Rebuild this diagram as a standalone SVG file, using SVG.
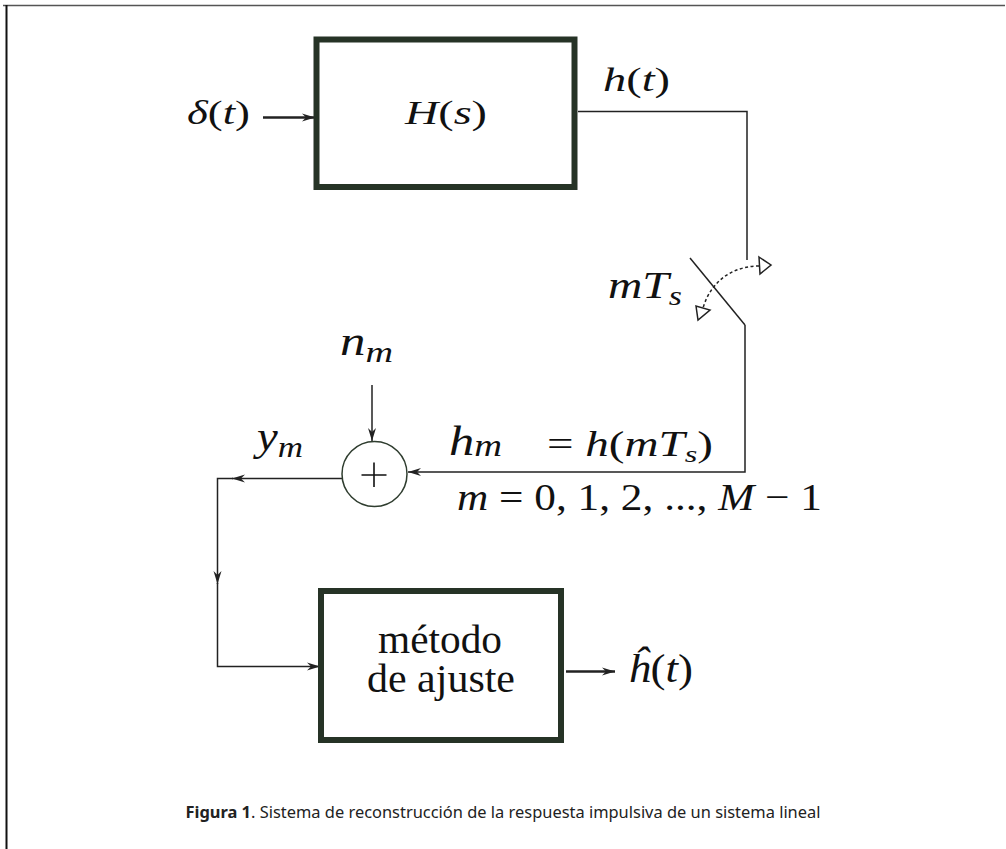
<svg xmlns="http://www.w3.org/2000/svg" width="1006" height="849" viewBox="0 0 1006 849">
<style>
.m{font-family:"Liberation Serif","DejaVu Serif",serif;fill:#111}
.i{font-style:italic}
.box{fill:#fff;stroke:#263326;stroke-width:6}
.ln{fill:none;stroke:#222;stroke-width:1.5}
.thk{stroke-width:2.6}
.cap{font-family:"Noto Sans","Open Sans",sans-serif;font-size:16px;fill:#222}
</style>
<defs>
<marker id="arr" markerWidth="14" markerHeight="10" refX="13" refY="5" orient="auto" markerUnits="userSpaceOnUse">
<path d="M0,1 L13,5 L0,9 L4,5 z" fill="#222"/>
</marker>
</defs>
<rect width="1006" height="849" fill="#fff"/>
<path d="M3,5.5 H1005" stroke="#555" stroke-width="1.6" fill="none"/>
<path d="M6.5,5 V849" stroke="#111" stroke-width="2" fill="none"/>

<g id="connectors">
<path class="ln thk" d="M263,117.5 H315" marker-end="url(#arr)"/>
<path class="ln" d="M578,111.5 H747 V260"/>
<path class="ln" d="M690,258 L745,325"/>
<path class="ln" d="M745,325 V472 H408" marker-end="url(#arr)"/>
<path class="ln" d="M372,385 V441" marker-end="url(#arr)"/>
<path class="ln" d="M342,478.5 H232" marker-end="url(#arr)"/>
<path class="ln" d="M233,478.5 H217.5 V584" marker-end="url(#arr)"/>
<path class="ln" d="M217.5,583 V666.5 H320" marker-end="url(#arr)"/>
<path class="ln thk" d="M566,671.5 H615" marker-end="url(#arr)"/>
<path class="ln" d="M759,266 C736,266 712,278 703,308" stroke-dasharray="3,2.5"/>
<polygon points="759,257 771,265 760,274" fill="#fff" stroke="#222" stroke-width="1.5"/>
<polygon points="696,306 698,320 710,310" fill="#fff" stroke="#222" stroke-width="1.5"/>
</g>

<g id="H">
<rect class="box" x="316.5" y="39.5" width="258" height="147.5"/>
<text class="m" x="405" y="124" font-size="34" textLength="82" lengthAdjust="spacingAndGlyphs"><tspan class="i">H</tspan>(<tspan class="i">s</tspan>)</text>
</g>

<g id="delta">
<text class="m" x="187" y="124" font-size="34" textLength="63" lengthAdjust="spacingAndGlyphs"><tspan class="i">δ</tspan>(<tspan class="i">t</tspan>)</text>
</g>

<g id="ht">
<text class="m" x="603" y="91" font-size="34" textLength="67" lengthAdjust="spacingAndGlyphs"><tspan class="i">h</tspan>(<tspan class="i">t</tspan>)</text>
</g>

<g id="switch">
<text class="m i" x="608" y="298" font-size="38" textLength="74" lengthAdjust="spacingAndGlyphs">mT<tspan font-size="27" dy="7">s</tspan></text>
</g>

<g id="sum">
<circle cx="374.5" cy="474" r="32.5" fill="#fff" stroke="#2f3d2f" stroke-width="1.5"/>
<path d="M361.5,475 H386.5 M374,462.5 V487" stroke="#111" stroke-width="1.6" fill="none"/>
</g>

<g id="nm">
<text class="m i" x="340" y="355" font-size="40" textLength="53" lengthAdjust="spacingAndGlyphs">n<tspan font-size="30" dy="7">m</tspan></text>
</g>

<g id="ym">
<text class="m i" x="257" y="450" font-size="40" textLength="46" lengthAdjust="spacingAndGlyphs">y<tspan font-size="30" dy="7">m</tspan></text>
</g>

<g id="hm">
<text class="m i" x="449" y="455" font-size="42" textLength="53" lengthAdjust="spacingAndGlyphs">h<tspan font-size="32" dy="1">m</tspan></text>
<text class="m" x="547" y="456" font-size="35" textLength="166" lengthAdjust="spacingAndGlyphs">= <tspan class="i">h</tspan>(<tspan class="i">m</tspan><tspan class="i">T</tspan><tspan class="i" font-size="24" dy="6">s</tspan><tspan dy="-6">)</tspan></text>
<text class="m" x="457" y="510" font-size="38" textLength="365" lengthAdjust="spacingAndGlyphs"><tspan class="i">m</tspan> = 0, 1, 2, ..., <tspan class="i">M</tspan> − 1</text>
</g>

<g id="metodo">
<rect class="box" x="321" y="591" width="240" height="149"/>
<text class="m" x="378" y="653" font-size="39" textLength="124" lengthAdjust="spacingAndGlyphs">método</text>
<text class="m" x="367" y="692" font-size="39" textLength="148" lengthAdjust="spacingAndGlyphs">de ajuste</text>
</g>

<g id="hhat">
<text class="m" x="628" y="682" font-size="40" textLength="65" lengthAdjust="spacingAndGlyphs"><tspan class="i">ĥ</tspan>(<tspan class="i">t</tspan>)</text>
</g>

<g id="caption">
<text class="cap" x="503" y="818" text-anchor="middle" textLength="635" lengthAdjust="spacingAndGlyphs"><tspan font-weight="bold">Figura 1</tspan>. Sistema de reconstrucción de la respuesta impulsiva de un sistema lineal</text>
</g>
</svg>
